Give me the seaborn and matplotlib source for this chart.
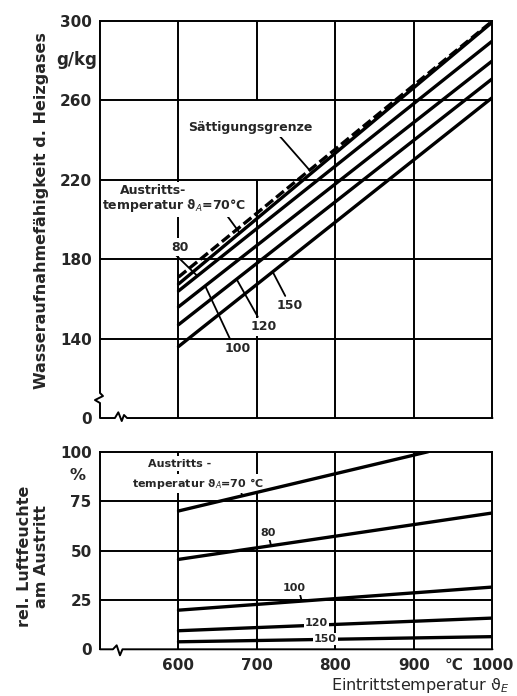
import numpy as np
import pandas as pd
import matplotlib.pyplot as plt
import seaborn as sns

# Eintrittstemperatur (°C)
x_temp = [600, 1000]
xticks = [600, 700, 800, 900, 1000]

# oben: Wasseraufnahmefähigkeit (g/kg) je Austrittstemperatur
saett_grenze = [171, 300]
cap_70 = [167.5, 299.5]
cap_80 = [164, 290]
cap_100 = [156, 280]
cap_120 = [147, 271]
cap_150 = [136, 261.5]
temps_aus = [70, 80, 100, 120, 150]

top_yticks = [100, 140, 180, 220, 260, 300]
top_ylabels = ['0', '140', '180', '220', '260', '300']

# unten: rel. Luftfeuchte am Austritt (%)
x_rh_70 = [600, 918]
rh_70 = [70, 100]
rh_80 = [45.5, 69]
rh_100 = [19.8, 31.5]
rh_120 = [9.4, 15.8]
rh_150 = [3.8, 6.4]
bot_yticks = [0, 25, 50, 75, 100]

sns.set_style('white')
plt.rcParams['font.family'] = ['DejaVu Sans']
plt.rcParams['mathtext.fontset'] = 'dejavusans'

fig = plt.figure(figsize=(5.17, 6.96), dpi=100)
ax1 = fig.add_axes([0.1934, 0.3994, 0.7592, 0.5704])
ax2 = fig.add_axes([0.1934, 0.0671, 0.7592, 0.2839])

grid_kw = dict(color='k', lw=1.4, zorder=1)
lw_data = 2.4
bb = dict(boxstyle='square,pad=0.2', fc='white', ec='none')
tkw = dict(fontsize=9, fontweight='bold', zorder=4)
lead = dict(arrowstyle='-', lw=1.3, color='k', shrinkA=0, shrinkB=0)

# --- oberes Diagramm ---
cap_curves = [cap_70, cap_80, cap_100, cap_120, cap_150]
top_df = pd.DataFrame({
    'eintritt': x_temp * len(temps_aus),
    'wasser': sum(cap_curves, []),
    'austritt': np.repeat(temps_aus, len(x_temp)),
})
sns.lineplot(data=top_df, x='eintritt', y='wasser', units='austritt', estimator=None,
             color='k', linewidth=lw_data, legend=False, ax=ax1, zorder=5)
sns.lineplot(x=x_temp, y=saett_grenze, color='k', linewidth=lw_data,
             linestyle=(0, (3, 1.2)), ax=ax1, zorder=5)

ax1.set_xlim(500, 1000)
ax1.set_ylim(100, 300)
ax1.vlines([600, 800, 900], 100, 300, **grid_kw)
ax1.vlines([700, 700], [100, 260], [220, 300], **grid_kw)
ax1.hlines([140, 180, 220, 260], 500, 1000, **grid_kw)

ax1.text(525, 214.4, 'Austritts-', ha='left', va='center', bbox=bb, **tkw)
ax1.text(503, 206.9, 'temperatur ϑ$_A$=70°C', ha='left', va='center', bbox=bb, **tkw)
ax1.annotate('', xy=(678, np.interp(678, x_temp, cap_70)), xytext=(659, 203.5), arrowprops=lead)
ax1.text(602, 186, '80', ha='center', va='center', bbox=bb, **tkw)
ax1.annotate('', xy=(624, np.interp(624, x_temp, cap_80)), xytext=(593, 183.5), arrowprops=lead)
ax1.text(676, 135, '100', ha='center', va='center', bbox=bb, **tkw)
ax1.annotate('', xy=(634, np.interp(634, x_temp, cap_100)), xytext=(666, 139.5), arrowprops=lead)
ax1.text(708, 146, '120', ha='center', va='center', bbox=bb, **tkw)
ax1.annotate('', xy=(674, np.interp(674, x_temp, cap_120)), xytext=(701, 151), arrowprops=lead)
ax1.text(742, 156.6, '150', ha='center', va='center', bbox=bb, **tkw)
ax1.annotate('', xy=(720, np.interp(720, x_temp, cap_150)), xytext=(736, 161.5), arrowprops=lead)
ax1.text(691, 246.3, 'Sättigungsgrenze', ha='center', va='center', bbox=bb, **tkw)
ax1.annotate('', xy=(767, np.interp(767, x_temp, saett_grenze)), xytext=(729, 242), arrowprops=lead)

ax1.set_xticks([])
ax1.set_yticks(top_yticks, top_ylabels)
ax1.set_xlabel('')
ax1.set_ylabel('')
ax1.text(-0.008, 280.4, 'g/kg', transform=ax1.get_yaxis_transform(), ha='right', va='center',
         fontsize=12, fontweight='bold')

# --- unteres Diagramm ---
rh_df = pd.DataFrame({
    'eintritt': x_rh_70 + x_temp * 4,
    'feuchte': rh_70 + rh_80 + rh_100 + rh_120 + rh_150,
    'austritt': np.repeat(temps_aus, 2),
})
sns.lineplot(data=rh_df, x='eintritt', y='feuchte', units='austritt', estimator=None,
             color='k', linewidth=lw_data, legend=False, ax=ax2, zorder=5)

ax2.set_xlim(500, 1000)
ax2.set_ylim(0, 100)
ax2.vlines([600, 700, 800, 900], 0, 100, **grid_kw)
ax2.hlines([25, 50, 75], 500, 1000, **grid_kw)

tkw2 = dict(tkw, fontsize=8)
ax2.text(601, 94, 'Austritts -', ha='center', va='center', bbox=bb, **tkw2)
ax2.text(541, 84, 'temperatur ϑ$_A$=70 °C', ha='left', va='center', bbox=bb, **tkw2)
ax2.annotate('', xy=(681, np.interp(681, x_rh_70, rh_70)), xytext=(679, 81.5), arrowprops=lead)
ax2.text(714, 59, '80', ha='center', va='center', bbox=bb, **tkw2)
ax2.annotate('', xy=(718, np.interp(718, x_temp, rh_80)), xytext=(716, 55.5), arrowprops=lead)
ax2.text(748, 31, '100', ha='center', va='center', bbox=bb, **tkw2)
ax2.annotate('', xy=(757, np.interp(757, x_temp, rh_100)), xytext=(755, 27.5), arrowprops=lead)
on_line = dict(tkw2, zorder=6)
ax2.text(776, np.interp(776, x_temp, rh_120) + 1, '120', ha='center', va='center',
         bbox=dict(bb, boxstyle='square,pad=0.1'), **on_line)
ax2.text(787, np.interp(787, x_temp, rh_150), '150', ha='center', va='center',
         bbox=dict(bb, boxstyle='square,pad=0.1'), **on_line)

ax2.set_xticks(xticks)
ax2.set_yticks(bot_yticks)
ax2.set_xlabel('')
ax2.set_ylabel('')
ax2.text(-0.038, 88, '%', transform=ax2.get_yaxis_transform(), ha='right', va='center',
         fontsize=11.5, fontweight='bold')
ax2.text(951, -0.08, '°C', transform=ax2.get_xaxis_transform(), ha='center', va='center',
         fontsize=11, fontweight='bold')

# Achsen, Unterbrechungen
for ax in (ax1, ax2):
    ax.tick_params(length=0, pad=6, labelsize=11)
    for lbl in ax.get_xticklabels() + ax.get_yticklabels():
        lbl.set_fontweight('bold')
    for s in ax.spines.values():
        s.set_linewidth(1.4)
        s.set_color('k')
        s.set_zorder(6)
    ax.spines['bottom'].set_visible(False)
ax1.spines['left'].set_visible(False)

ax1.plot([0, 0, 0.0077, -0.0128, 0, 0, 0.038, 0.0467, 0.0554, 0.0612, 0.0689, 1],
         [1, 0.063, 0.0554, 0.0453, 0.0378, 0, 0, 0.0144, -0.0076, 0.0076, 0, 0],
         transform=ax1.transAxes, clip_on=False, color='k', lw=1.4, zorder=6)
ax2.plot([0, 0.033, 0.0425, 0.0509, 0.0573, 1],
         [0, 0, 0.0202, -0.0304, 0, 0],
         transform=ax2.transAxes, clip_on=False, color='k', lw=1.4, zorder=6)

# Achsenbeschriftungen
fig.text(0.081, 0.698, 'Wasseraufnahmefähigkeit d. Heizgases', rotation=90,
         ha='center', va='center', fontsize=11.5, fontweight='bold')
fig.text(0.064, 0.2, 'rel. Luftfeuchte\nam Austritt', rotation=90, ha='center',
         va='center', multialignment='center', fontsize=11.5, fontweight='bold')
fig.text(0.985, 0.008, 'Eintrittstemperatur ϑ$_E$', ha='right', va='baseline', fontsize=11.5)

fig.savefig('out.png', dpi=100)
